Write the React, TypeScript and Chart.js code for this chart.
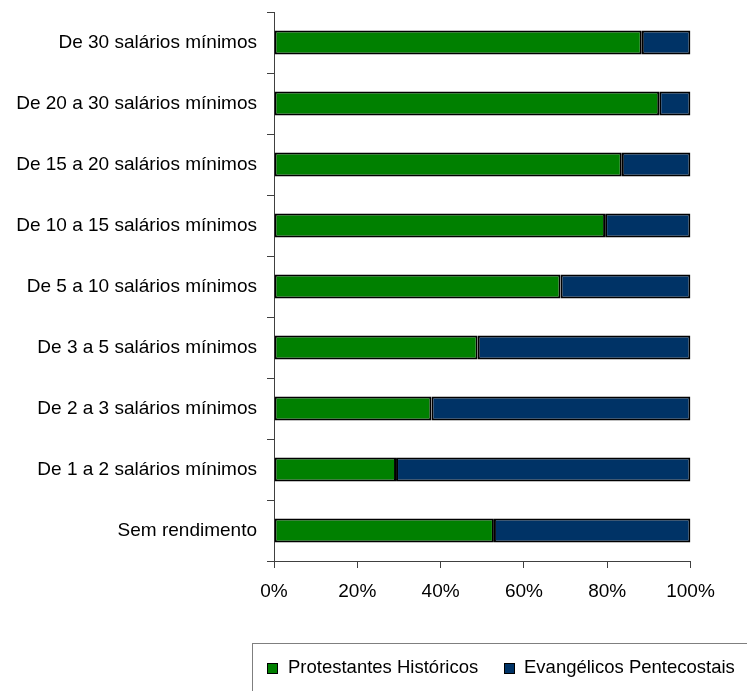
import React, { useEffect, useRef } from "react";
import { Chart, registerables } from "chart.js";

Chart.register(...registerables);

const categories = [
  "De 30 salários mínimos",
  "De 20 a 30 salários mínimos",
  "De 15 a 20 salários mínimos",
  "De 10 a 15 salários mínimos",
  "De 5 a 10 salários mínimos",
  "De 3 a 5 salários mínimos",
  "De 2 a 3 salários mínimos",
  "De 1 a 2 salários mínimos",
  "Sem rendimento",
];

const protestantesHistoricos = [88.3, 92.5, 83.5, 79.5, 68.8, 48.9, 37.8, 29.3, 52.8];
const evangelicosPentecostais = [11.7, 7.5, 16.5, 20.5, 31.2, 51.1, 62.2, 70.7, 47.2];

const seriesNames = ["Protestantes Históricos", "Evangélicos Pentecostais"];
const seriesColors = ["#008000", "#003366"];
const xTicks = [0, 20, 40, 60, 80, 100];

const FONT = "'Liberation Sans', Arial, sans-serif";

const boxedLegend = {
  id: "boxedLegend",
  afterDraw(chart: any) {
    const ctx = chart.ctx;
    ctx.save();
    ctx.strokeStyle = "#7f7f7f";
    ctx.lineWidth = 1;
    ctx.strokeRect(252.5, 643.5, 560, 80);
    const items = [
      { sq: 267, tx: 288 },
      { sq: 504, tx: 524 },
    ];
    chart.data.datasets.forEach((ds: any, i: number) => {
      const it = items[i];
      ctx.fillStyle = ds.backgroundColor;
      ctx.fillRect(it.sq, 663, 10, 10);
      ctx.strokeStyle = "#000";
      ctx.lineWidth = 1;
      ctx.strokeRect(it.sq + 0.5, 663.5, 10, 10);
      ctx.fillStyle = "#000";
      ctx.font = `18.5px ${FONT}`;
      ctx.textBaseline = "middle";
      ctx.textAlign = "left";
      ctx.fillText(ds.label, it.tx, 668);
    });
    ctx.restore();
  },
};

export default function App() {
  const ref = useRef<HTMLCanvasElement | null>(null);

  useEffect(() => {
    if (!ref.current) return;
    const chart = new Chart(ref.current, {
      type: "bar",
      data: {
        labels: categories,
        datasets: [
          {
            label: seriesNames[0],
            data: protestantesHistoricos,
            backgroundColor: seriesColors[0],
            borderColor: "#000",
            borderWidth: 2,
            borderSkipped: false,
          },
          {
            label: seriesNames[1],
            data: evangelicosPentecostais,
            backgroundColor: seriesColors[1],
            borderColor: "#000",
            borderWidth: 2,
            borderSkipped: false,
          },
        ],
      },
      options: {
        indexAxis: "y",
        animation: false,
        responsive: true,
        maintainAspectRatio: false,
        layout: { padding: { top: 12, right: 56.5, left: 0, bottom: 0 } },
        datasets: { bar: { categoryPercentage: 1, barPercentage: 0.39 } },
        plugins: {
          legend: { display: false },
          tooltip: { enabled: false },
        },
        scales: {
          x: {
            stacked: true,
            min: 0,
            max: 100,
            afterBuildTicks: (scale: any) => {
              scale.ticks = xTicks.map((v) => ({ value: v }));
            },
            afterFit: (scale: any) => {
              scale.height = 130;
              scale.paddingLeft = 0;
              scale.paddingRight = 0;
            },
            grid: {
              drawOnChartArea: false,
              drawTicks: true,
              tickLength: 7,
              color: "#404040",
            },
            border: { display: true, color: "#404040", width: 1 },
            ticks: {
              callback: (v: any) => `${v}%`,
              color: "#000",
              font: { family: FONT, size: 19 },
              padding: 12,
              maxRotation: 0,
            },
          },
          y: {
            stacked: true,
            afterFit: (scale: any) => {
              scale.width = 274;
              scale.paddingTop = 0;
              scale.paddingBottom = 0;
            },
            grid: {
              offset: true,
              drawOnChartArea: false,
              drawTicks: true,
              tickLength: 7,
              color: "#404040",
            },
            border: { display: true, color: "#404040", width: 1 },
            ticks: {
              color: "#000",
              font: { family: FONT, size: 19 },
              padding: 10,
            },
          },
        },
      },
      plugins: [boxedLegend],
    } as any);
    return () => chart.destroy();
  }, []);

  return (
    <div style={{ position: "fixed", left: 0, top: 0, width: 747, height: 691, background: "#fff" }}>
      <canvas ref={ref} />
    </div>
  );
}
